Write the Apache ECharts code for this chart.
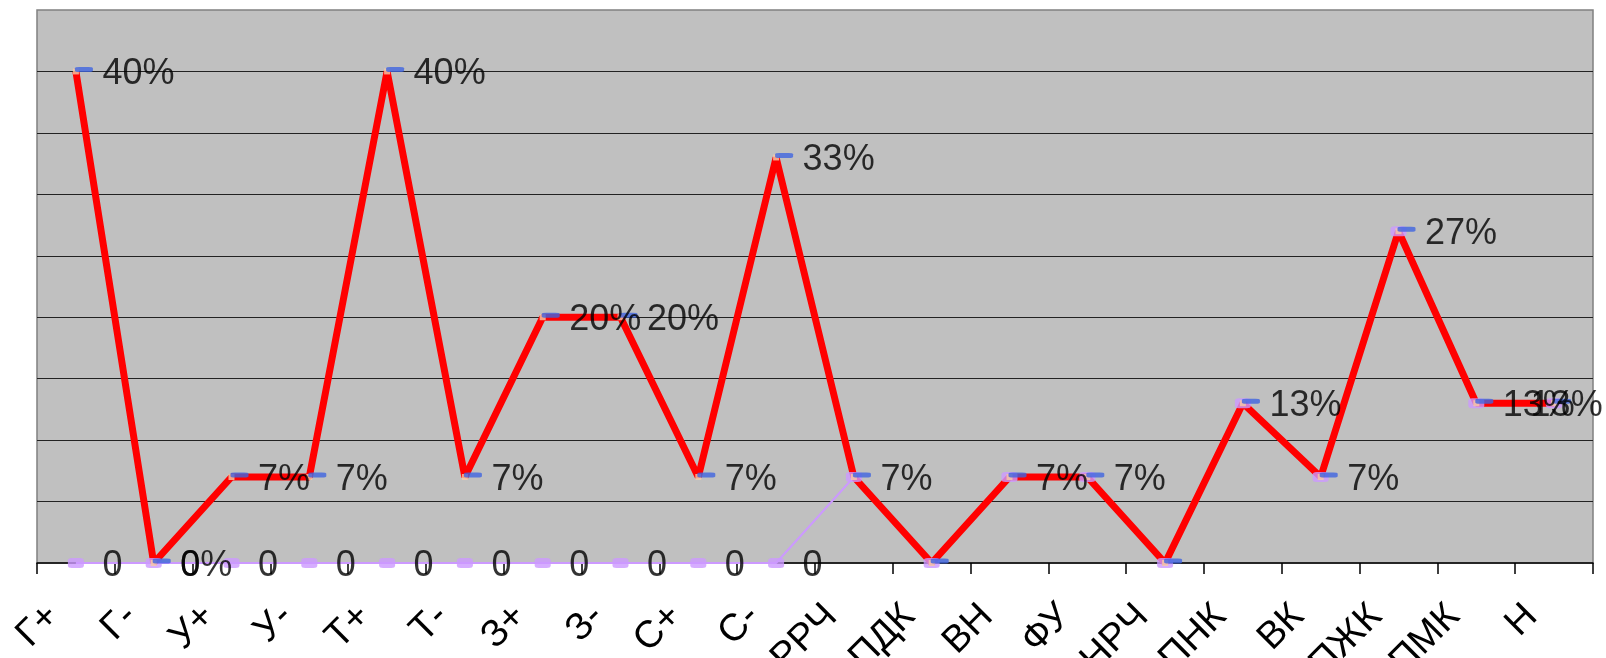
<!DOCTYPE html>
<html><head><meta charset="utf-8">
<script src="https://cdn.jsdelivr.net/npm/echarts@6/dist/echarts.min.js"></script>
<style>html,body{margin:0;padding:0;background:#fff;} #c{width:1606px;height:658px;}</style>
</head><body><div id="c"></div>
<script>
const categories = ['Г+','Г-','У+','У-','Т+','Т-','З+','З-','С+','С-','РРЧ','ПДК','ВН','ФУ','НРЧ','ПНК','ВК','ПЖК','ПМК','Н'];
const redValues = [40,0,7,7,40,7,20,20,7,33,7,0,7,7,0,13,7,27,13,13];
const redLabelled = [true,true,true,true,true,true,true,true,true,true,true,false,true,true,false,true,true,true,true,true];
const lavenderValues = [0,0,0,0,0,0,0,0,0,0,7,0,7,7,0,13,7,27,13,13];
const lavenderLabelled = [true,true,true,true,true,true,true,true,true,true,false,false,false,false,false,false,false,false,false,false];
const yMin = 0, yMax = 45, yStep = 5;

const FONT = 'Arial, "Liberation Sans", sans-serif';
const LABEL_SIZE = 36;
const AXIS_LABEL_SIZE = 38;
const chart = echarts.init(document.getElementById('c'));

const lastIdx = redValues.length - 1;
const redLabelData = redValues.map((v, i) => {
  const item = {value: v, label: {show: redLabelled[i]}};
  if (i === lastIdx) item.label.offset = [-50, 3];
  return item;
});
const lavLabelData = lavenderValues.map((v, i) => ({value: v, label: {show: lavenderLabelled[i]}}));

const option = {
  animation: false,
  backgroundColor: '#ffffff',
  grid: {left: 37, right: 13, top: 10, bottom: 95, show: true, containLabel: false, outerBoundsMode: 'none',
    backgroundColor: '#C0C0C0', borderColor: '#808080', borderWidth: 1.5},
  xAxis: {type: 'category', data: categories, boundaryGap: true,
    axisLine: {lineStyle: {color: '#000', width: 1.5}},
    axisTick: {show: true, length: 11, lineStyle: {color: '#000', width: 1.5}},
    axisLabel: {rotate: 45, interval: 0, margin: 25, fontSize: AXIS_LABEL_SIZE, fontFamily: FONT,
      color: '#000', padding: [0, 32, 0, 0], hideOverlap: false}},
  yAxis: {type: 'value', min: yMin, max: yMax, interval: yStep,
    axisLine: {show: false}, axisTick: {show: false}, axisLabel: {show: false},
    splitLine: {show: true, showMinLine: false, showMaxLine: false, lineStyle: {color: '#222', width: 1}}},
  series: [
    {type: 'line', data: lavenderValues, symbol: 'none', z: 2, silent: true,
      lineStyle: {color: '#CC99FF', width: 2}},
    {type: 'line', data: redValues, symbol: 'none', z: 3, silent: true,
      lineStyle: {color: '#FF0000', width: 7}},
    {type: 'scatter', data: lavenderValues, symbol: 'roundRect', symbolSize: [16, 10], z: 4, silent: true,
      itemStyle: {color: '#CC99FF'}},
    {type: 'scatter', data: redValues, symbol: 'rect', symbolSize: [6, 6], z: 5, silent: true,
      itemStyle: {color: '#F6CBA6'}},
    {type: 'scatter', data: redValues, symbol: 'roundRect', symbolSize: [18, 5], symbolOffset: [8, -2], z: 6, silent: true,
      itemStyle: {color: '#3E64E0'}},
    {type: 'scatter', data: lavLabelData, symbol: 'circle', symbolSize: 1, z: 7, silent: true,
      itemStyle: {color: 'rgba(0,0,0,0)'},
      label: {show: true, position: 'right', distance: 26, offset: [0, 3], formatter: '{c}',
        fontSize: LABEL_SIZE, fontFamily: FONT, color: '#000'}},
    {type: 'scatter', data: redLabelData, symbol: 'circle', symbolSize: 1, z: 8, silent: true,
      itemStyle: {color: 'rgba(0,0,0,0)'},
      label: {show: true, position: 'right', distance: 26, offset: [0, 3], formatter: '{c}%',
        fontSize: LABEL_SIZE, fontFamily: FONT, color: '#000'}}
  ]
};
chart.setOption(option);
</script></body></html>
